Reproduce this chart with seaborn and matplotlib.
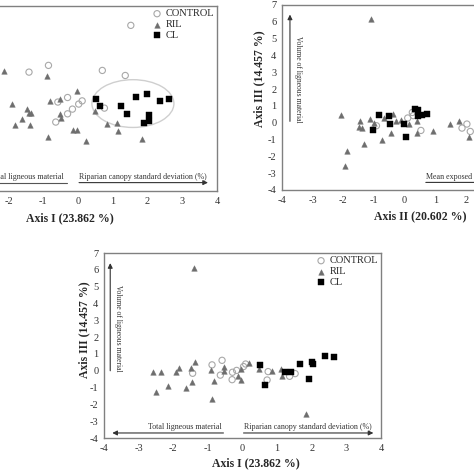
import matplotlib
matplotlib.use("Agg")
import matplotlib.pyplot as plt
from matplotlib.patches import Ellipse
import seaborn as sns

sns.set_theme(style="white")
plt.rcParams['font.family'] = ['Liberation Serif', 'DejaVu Serif']
plt.rcParams['axes.unicode_minus'] = False

# --- panel A: Axis I vs Axis II (top left) ---
ctrl_a_x = [1.52, -0.85, -1.41, 0.70, 1.36, -0.30, -0.58, 0.12, 0.02, -0.16, -0.30, -0.64, 0.76]
ctrl_a_y = [4.95, 2.57, 2.17, 2.27, 1.97, 0.66, 0.39, 0.46, 0.27, -0.03, -0.31, -0.80, 0.03]
ril_a_x = [-2.13, -0.90, -0.04, -0.81, -0.52, -1.91, -1.46, -1.41, -1.35, -1.62, -1.81, -1.38,
           -0.52, -0.50, -0.87, -0.15, -0.02, 0.22, 0.49, 0.84, 1.11, 1.14, 1.83]
ril_a_y = [2.21, 1.91, 1.06, 0.48, 0.57, 0.27, -0.01, -0.27, -0.27, -0.61, -1.00, -0.96,
           -0.33, -0.55, -1.70, -1.26, -1.26, -1.92, -0.13, -0.90, -0.83, -1.32, -1.80]
cl_a_x = [0.51, 0.63, 1.23, 1.40, 1.66, 1.99, 1.91, 2.03, 2.03, 2.37, 2.63]
cl_a_y = [0.60, 0.17, 0.13, -0.33, 0.72, 0.86, -0.86, -0.37, -0.71, 0.46, 0.56]

# --- panel B: Axis II vs Axis III (top right) ---
ctrl_b_x = [-0.92, 0.10, 0.25, 0.28, 0.53, 1.87, 2.03, 2.14]
ctrl_b_y = [-0.18, 0.28, 0.61, 0.42, -0.46, -0.32, -0.08, -0.52]
ril_b_x = [-1.11, -2.06, -1.88, -1.94, -1.44, -1.49, -1.40, -1.32, -1.14, -1.00, -0.75, -0.68,
           -0.38, -0.43, -0.27, -0.13, 0.14, 0.39, 0.40, 0.94, 1.48, 1.78, 2.11]
ril_b_y = [6.19, 0.48, -1.71, -2.60, 0.12, -0.26, -0.34, -1.25, 0.24, -0.02, -1.01, 0.26,
           0.50, -0.61, 0.13, 0.15, -0.07, -0.61, 0.11, -0.52, -0.10, 0.08, -0.87]
cl_b_x = [-0.83, -0.51, -1.03, -0.47, -0.01, 0.03, 0.34, 0.45, 0.45, 0.58, 0.73]
cl_b_y = [0.43, 0.42, -0.46, -0.06, -0.06, -0.83, 0.83, 0.77, 0.38, 0.48, 0.52]

# --- panel C: Axis I vs Axis III (bottom) ---
ctrl_c_x = [-1.44, -0.88, -0.59, -0.64, -0.29, -0.30, -0.17, 0.03, 0.09, 0.74, 0.71, 1.36, 1.52]
ctrl_c_y = [-0.15, 0.35, 0.62, -0.26, -0.09, -0.53, 0.02, 0.25, 0.40, -0.05, -0.55, -0.33, -0.17]
ril_c_x = [-1.41, -2.59, -2.35, -2.49, -2.16, -1.92, -1.84, -1.63, -1.48, -1.37, -1.45, -0.90,
           -0.88, -0.83, -0.52, -0.54, -0.14, -0.04, -0.04, 0.20, 0.47, 0.85, 1.12, 1.14, 1.84]
ril_c_y = [6.13, -0.06, -0.10, -1.25, -0.91, -0.06, 0.14, -1.01, 0.14, 0.50, -0.65, 0.04,
           -1.70, -0.61, 0.24, -0.02, -0.32, -0.55, 0.10, 0.45, 0.10, -0.03, 0.10, -0.31, -2.60]
cl_c_x = [0.51, 0.64, 1.23, 1.39, 1.65, 1.92, 2.00, 2.03, 2.37, 2.63]
cl_c_y = [0.36, -0.87, -0.08, -0.08, 0.42, -0.48, 0.50, 0.40, 0.85, 0.79]

groups = ["CONTROL", "RIL", "CL"]
label_ax1 = "Axis I (23.862 %)"
label_ax2 = "Axis II (20.602 %)"
label_ax3 = "Axis III (14.457 %)"
txt_vol = "Volume of ligneous material"
txt_tot = "Total ligneous material"
txt_rip = "Riparian canopy standard deviation (%)"
txt_mean = "Mean exposed soil (%)"

fig = plt.figure(figsize=(4.74, 4.74), dpi=100)


def draw_points(ax, cx, cy, rx, ry, sx, sy):
    sns.scatterplot(x=cx, y=cy, ax=ax, marker="o", s=20, facecolor="none",
                    edgecolor="#a8a8a8", linewidth=0.8, label=groups[0], zorder=3)
    sns.scatterplot(x=rx, y=ry, ax=ax, marker="^", s=16, color="#6e6e6e",
                    edgecolor="#6e6e6e", linewidth=0.3, label=groups[1], zorder=3)
    sns.scatterplot(x=sx, y=sy, ax=ax, marker="s", s=20, color="black",
                    edgecolor="black", linewidth=0.3, label=groups[2], zorder=4)


def style_axes(ax, xticks, yticks):
    ax.set_xticks(xticks)
    ax.set_yticks(yticks)
    ax.tick_params(length=0, pad=4, labelsize=7.5, colors="#333333")
    for sp in ax.spines.values():
        sp.set_color("#808080")
        sp.set_linewidth(1.0)
    ax.legend(loc="upper right", frameon=False, fontsize=7.5, handletextpad=0.2,
              labelspacing=0.15, borderaxespad=0.1, borderpad=0.2, handlelength=1.2)


def arrow(ax, x0, y0, x1, y1):
    ax.annotate("", xy=(x1, y1), xytext=(x0, y0),
                arrowprops=dict(arrowstyle="-|>", color="#333333", lw=0.8,
                                mutation_scale=7, shrinkA=0, shrinkB=0))


# top left
ax_a = fig.add_axes([-0.1287, 0.597, 0.5865, 0.3903])
draw_points(ax_a, ctrl_a_x, ctrl_a_y, ril_a_x, ril_a_y, cl_a_x, cl_a_y)
ax_a.add_patch(Ellipse((1.58, 0.3), 2.36, 2.84, fill=False, edgecolor="#cfcfcf", lw=1.0))
ax_a.set_xlim(-4, 4)
ax_a.set_ylim(-4.9, 6.1)
style_axes(ax_a, range(-4, 5), range(-4, 7))
ax_a.set_xlabel(label_ax1, fontsize=8.5, fontweight="bold")
ax_a.xaxis.set_label_coords(0.471, -0.115)
ax_a.set_ylabel(label_ax2, fontsize=8.5, fontweight="bold")
ax_a.text(-1.47, -4.3, txt_tot, ha="center", va="bottom", fontsize=5.8, color="#333333")
ax_a.plot([-3.76, -0.33], [-4.4, -4.4], color="#555555", lw=0.8)
ax_a.text(0.03, -4.3, txt_rip, ha="left", va="bottom", fontsize=5.8, color="#333333")
arrow(ax_a, 0.03, -4.4, 3.74, -4.4)

# top right
ax_b = fig.add_axes([0.5949, 0.5992, 0.5823, 0.3903])
draw_points(ax_b, ctrl_b_x, ctrl_b_y, ril_b_x, ril_b_y, cl_b_x, cl_b_y)
ax_b.set_xlim(-4, 5)
ax_b.set_ylim(-4, 7)
style_axes(ax_b, range(-4, 6), range(-4, 8))
ax_b.get_legend().remove()
ax_b.set_xlabel(label_ax2, fontsize=8.5, fontweight="bold")
ax_b.xaxis.set_label_coords(0.5, -0.11)
ax_b.set_ylabel(label_ax3, fontsize=8.5, fontweight="bold")
ax_b.yaxis.set_label_coords(-0.062, 0.6)
arrow(ax_b, -3.74, 0.08, -3.74, 6.43)
ax_b.text(-3.49, 5.14, txt_vol, rotation=270, ha="center", va="top", fontsize=5.5, color="#333333")
ax_b.text(0.69, -3.45, txt_mean, ha="left", va="bottom", fontsize=5.8, color="#333333")
arrow(ax_b, 0.69, -3.55, 3.5, -3.55)

# bottom
ax_c = fig.add_axes([0.2194, 0.0759, 0.5844, 0.3903])
draw_points(ax_c, ctrl_c_x, ctrl_c_y, ril_c_x, ril_c_y, cl_c_x, cl_c_y)
ax_c.set_xlim(-4, 4)
ax_c.set_ylim(-4, 7)
style_axes(ax_c, range(-4, 5), range(-4, 8))
ax_c.set_xlabel(label_ax1, fontsize=8.5, fontweight="bold")
ax_c.xaxis.set_label_coords(0.549, -0.105)
ax_c.set_ylabel(label_ax3, fontsize=8.5, fontweight="bold")
ax_c.yaxis.set_label_coords(-0.05, 0.586)
arrow(ax_c, -3.82, 0.0, -3.82, 6.4)
ax_c.text(-3.6, 5.1, txt_vol, rotation=270, ha="center", va="top", fontsize=5.5, color="#333333")
arrow(ax_c, -0.55, -3.7, -3.76, -3.7)
ax_c.text(-1.66, -3.6, txt_tot, ha="center", va="bottom", fontsize=5.8, color="#333333")
ax_c.text(0.03, -3.6, txt_rip, ha="left", va="bottom", fontsize=5.8, color="#333333")
arrow(ax_c, 0.03, -3.7, 3.78, -3.7)

fig.savefig("out.png", dpi=100)
